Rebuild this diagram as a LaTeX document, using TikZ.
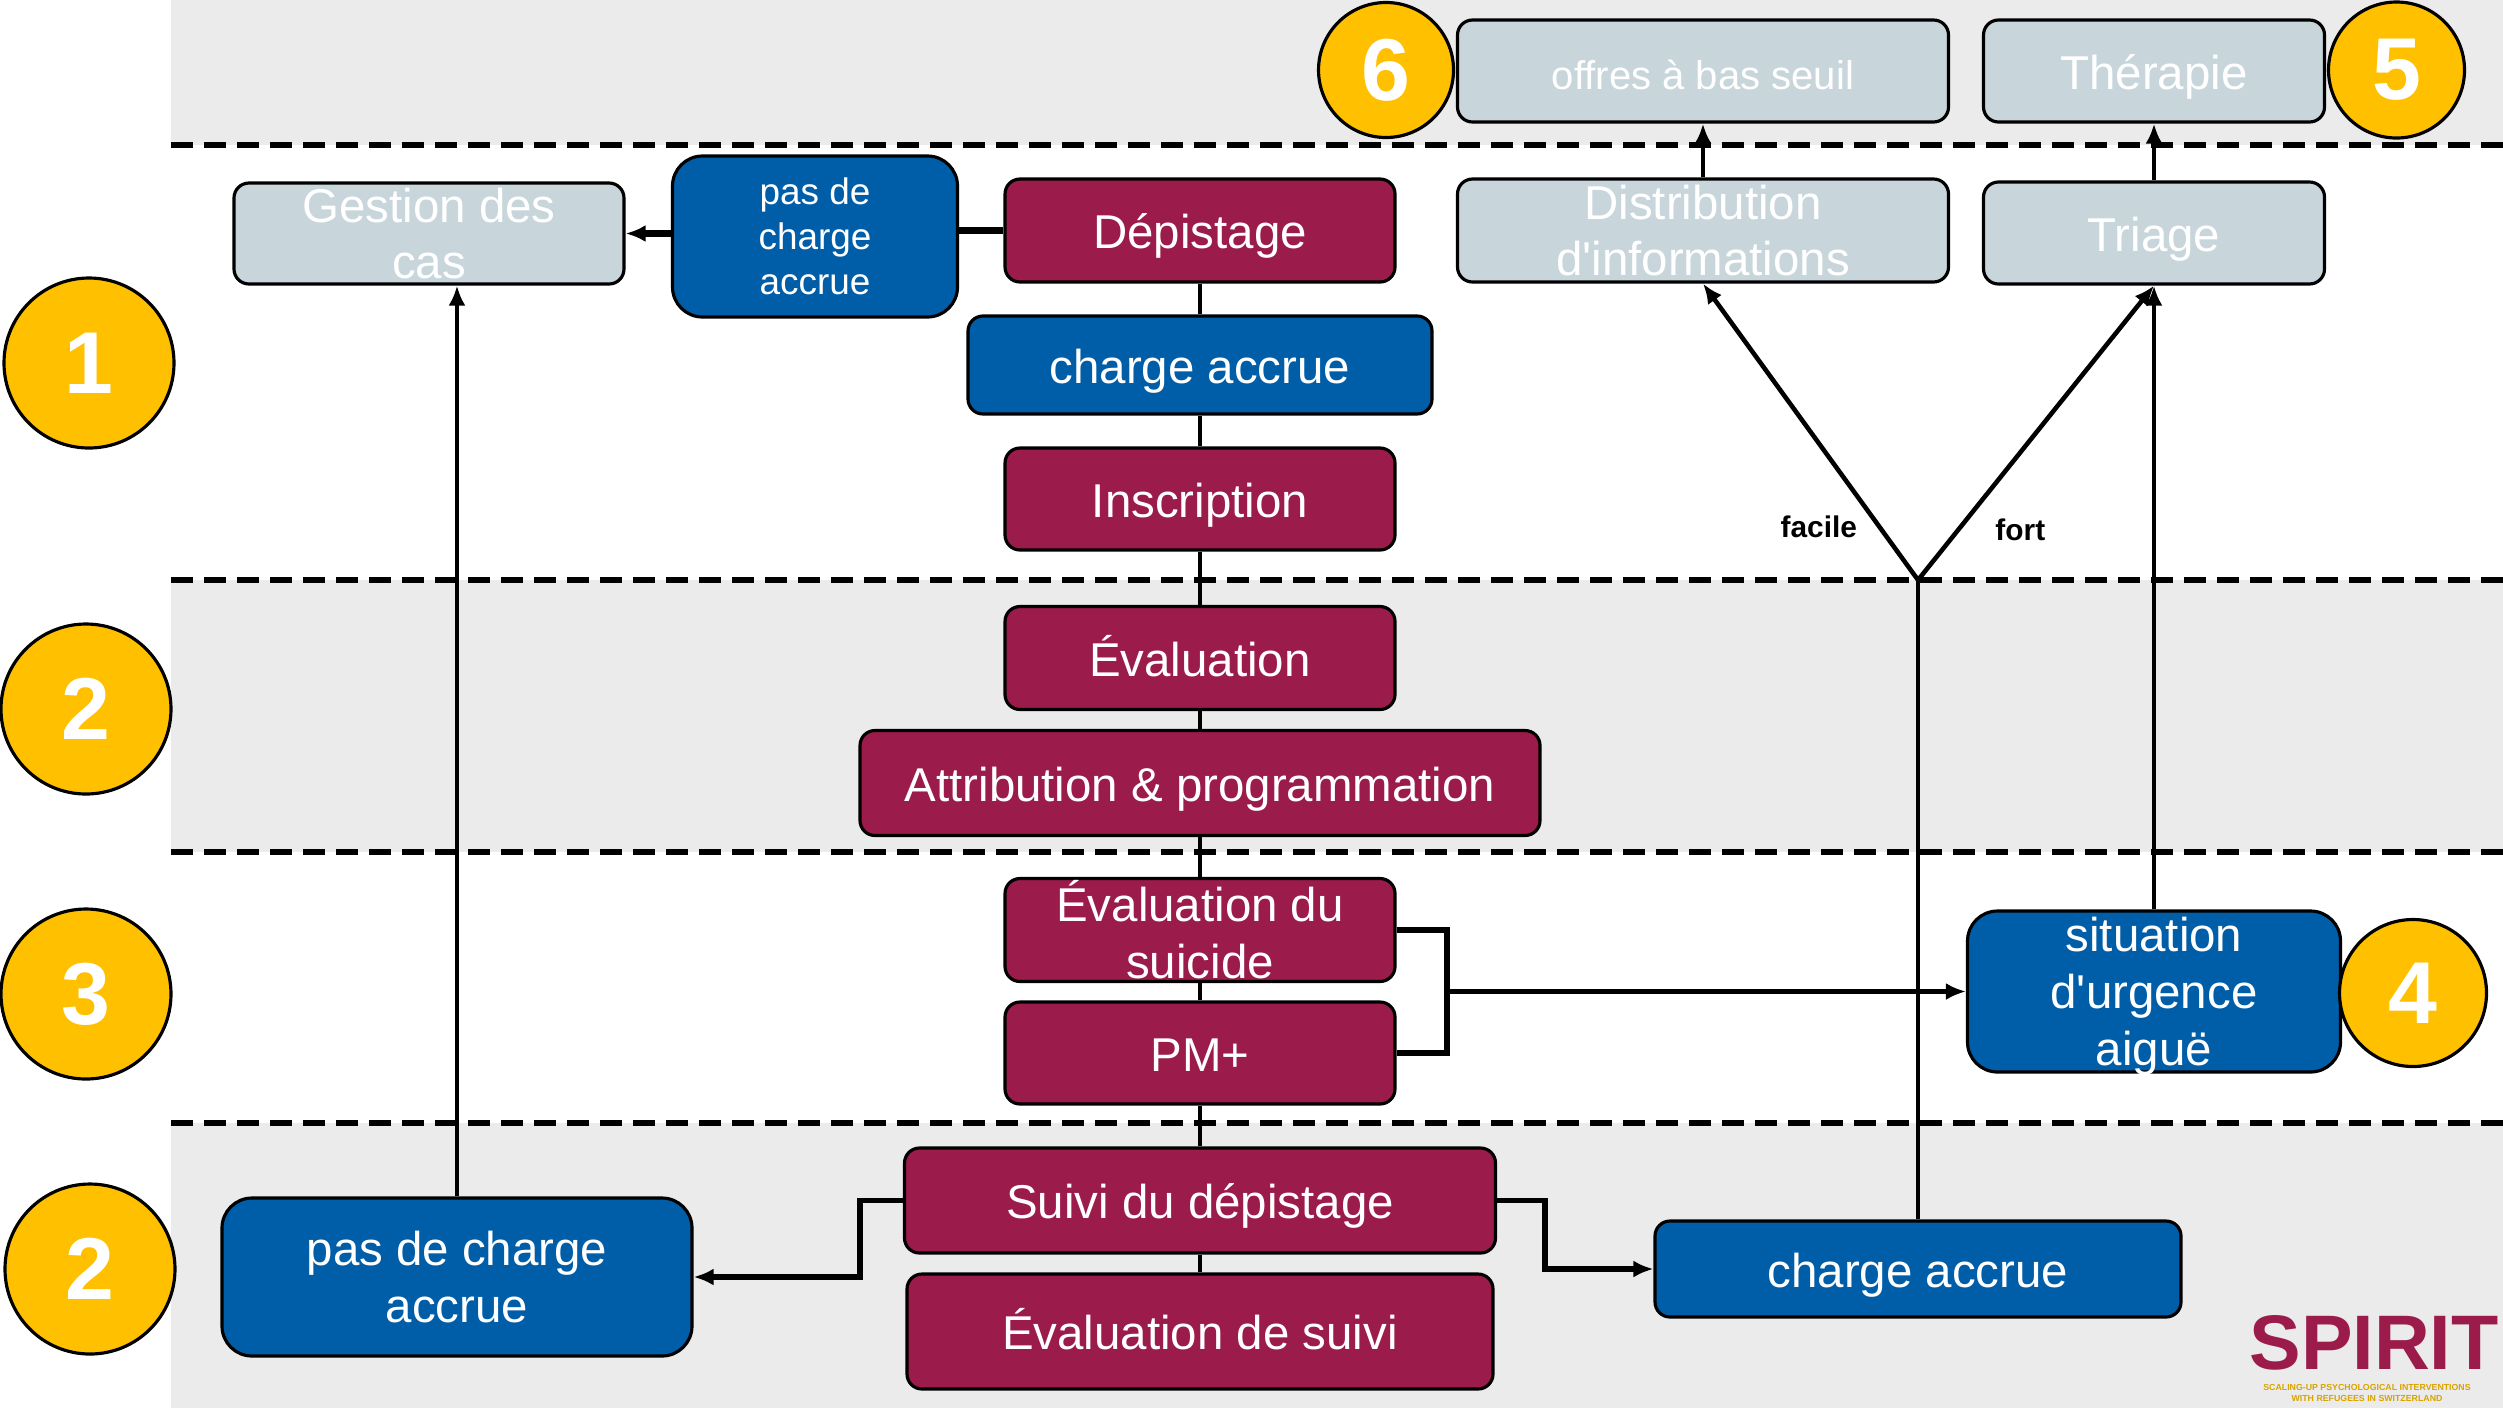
\documentclass[tikz,border=0pt]{standalone}
\usepackage{fontspec}
\setmainfont{Liberation Sans}
\usetikzlibrary{arrows.meta}

\definecolor{spired}{RGB}{155,27,74}
\definecolor{spiblue}{RGB}{0,94,168}
\definecolor{spigrey}{RGB}{200,214,220}
\definecolor{spiyellow}{RGB}{255,192,0}
\definecolor{laneback}{RGB}{235,235,235}

\tikzset{
  box/.style={draw=black, line width=0.9pt, rounded corners=0.15cm, text=white, align=center,
    inner sep=0pt, minimum height=1.02cm, font=\fontsize{13.5}{16.2}\selectfont},
  oneline/.style={text height=0.46cm, text depth=0.10cm},
  redbox/.style={box, fill=spired, minimum width=3.9cm},
  bluebox/.style={box, fill=spiblue},
  greybox/.style={box, fill=spigrey},
  numcirc/.style={circle, draw=black, line width=0.9pt, fill=spiyellow, text=white, inner sep=0pt,
    minimum size=1.70cm, font=\fontsize{25}{25}\selectfont\bfseries},
  link/.style={line width=1.3pt},
  thicklink/.style={line width=1.6pt},
  arr/.style={-{Latex[length=0.2cm,width=0.17cm]}},
  lbl/.style={inner sep=0pt, font=\fontsize{8.5}{10}\selectfont\bfseries},
  sep/.style={line width=1.5pt, dash pattern=on 0.22cm off 0.11cm},
}

\begin{document}
\begin{tikzpicture}
\fill[white] (0,0) rectangle (25.03,-14.08);
\useasboundingbox (0,0) rectangle (25.03,-14.08);

\fill[laneback] (1.71,0) rectangle (25.03,-1.45);
\fill[laneback] (1.71,-5.80) rectangle (25.03,-8.52);
\fill[laneback] (1.71,-11.23) rectangle (25.03,-14.08);
\foreach \y in {-1.45,-5.80,-8.52,-11.23}
  \draw[sep] (1.71,\y) -- (25.03,\y);

\node[greybox, minimum width=3.90cm, minimum height=1.01cm] (gestion) at (4.29,-2.335) {Gestion des\\cas};
\node[bluebox, minimum width=2.85cm, minimum height=1.61cm, rounded corners=0.3cm,
  font=\fontsize{10.5}{12.8}\selectfont] (pasdechtop) at (8.15,-2.365) {pas de\\charge\\accrue};
\node[redbox, oneline, minimum height=1.03cm] (depist) at (12.0,-2.305) {Dépistage};
\node[bluebox, oneline, minimum width=4.64cm, minimum height=0.98cm] (chargetop) at (12.0,-3.65) {charge accrue};
\node[redbox, oneline] (inscr) at (12.0,-4.99) {Inscription};
\node[redbox, oneline, minimum height=1.03cm] (eval) at (12.0,-6.58) {Évaluation};
\node[redbox, oneline, minimum width=6.80cm, minimum height=1.05cm] (attrib) at (12.0,-7.83) {Attribution \& programmation};
\node[redbox, minimum height=1.03cm] (suicide) at (12.0,-9.30) {Évaluation du\\suicide};
\node[redbox, oneline] (pmplus) at (12.0,-10.53) {PM+};
\node[redbox, oneline, minimum width=5.91cm, minimum height=1.05cm] (suivi) at (12.0,-12.005) {Suivi du dépistage};
\node[redbox, oneline, minimum width=5.86cm, minimum height=1.15cm] (evalsuivi) at (12.0,-13.315) {Évaluation de suivi};
\node[bluebox, minimum width=4.70cm, minimum height=1.58cm, rounded corners=0.3cm] (pasdechbot) at (4.57,-12.77) {pas de charge\\accrue};
\node[bluebox, oneline, minimum width=5.26cm, minimum height=0.96cm] (chargebot) at (19.18,-12.69) {charge accrue};
\node[bluebox, text depth=0pt, minimum width=3.73cm, minimum height=1.61cm, rounded corners=0.3cm] (urgence) at (21.54,-9.915)
  {situation\\d\textquotesingle urgence\\aiguë};
\node[greybox, minimum width=4.91cm, minimum height=1.03cm] (distrib) at (17.03,-2.305) {Distribution\\d\textquotesingle informations};
\node[greybox, oneline, minimum width=3.41cm] (triage) at (21.54,-2.33) {Triage};
\node[greybox, oneline, minimum width=4.91cm, font=\fontsize{11.4}{13}\selectfont] (offres) at (17.03,-0.71) {offres à bas seuil};
\node[greybox, oneline, minimum width=3.41cm] (therapie) at (21.54,-0.71) {Thérapie};

\node[numcirc] (num1) at (0.89,-3.63) {1};
\node[numcirc] (num2) at (0.86,-7.09) {2};
\node[numcirc] (num3) at (0.86,-9.94) {3};
\node[numcirc] (num2b) at (0.90,-12.69) {2};
\node[numcirc, minimum size=1.47cm] (num4) at (24.13,-9.93) {4};
\node[numcirc, minimum size=1.36cm] (num5) at (23.965,-0.70) {5};
\node[numcirc, minimum size=1.35cm] (num6) at (13.86,-0.70) {6};

\foreach \a/\b in {depist/chargetop, chargetop/inscr, inscr/eval, eval/attrib, attrib/suicide,
  suicide/pmplus, pmplus/suivi, suivi/evalsuivi}
  \draw[link] (\a) -- (\b);

\draw[line width=2pt] (depist.west) -- (pasdechtop.east |- depist.west);
\draw[line width=2pt, arr] (pasdechtop.west |- gestion.east) -- (gestion.east);
\draw[link, arr] (pasdechbot.north) -- (pasdechbot.north |- gestion.south);

\coordinate (brk) at (14.47,-9.915);
\draw[thicklink] (suicide.east) -| (brk) |- (pmplus.east);
\draw[thicklink, arr] (brk) -- (urgence.west);
\draw[link, arr] (urgence.north) -- (triage.south);

\draw[thicklink, arr] (suivi.west) -- ++(-0.43,0) |- (pasdechbot.east);
\draw[thicklink, arr] (suivi.east) -- ++(0.48,0) |- (chargebot.west);

\coordinate (fork) at (19.18,-5.80);
\draw[link] (chargebot.north) -- (fork);
\draw[link, arr] (fork) -- (distrib.south) node[lbl, pos=0.18, left=0.2cm] {facile};
\draw[link, arr] (fork) -- (triage.south) node[lbl, pos=0.17, right=0.35cm] {fort};

\draw[link, arr] (distrib) -- (offres);
\draw[link, arr] (triage) -- (therapie);

\node[inner sep=0pt, text=spired, font=\fontsize{22}{22}\selectfont\bfseries] (logo) at (23.74,-13.425) {SPIRIT};
\node[inner sep=0pt, align=center, text=spiyellow!85!black, font=\fontsize{2.5}{2.9}\selectfont\bfseries] (logosub) at (23.67,-13.93)
  {SCALING-UP PSYCHOLOGICAL INTERVENTIONS\\WITH REFUGEES IN SWITZERLAND};

\end{tikzpicture}
\end{document}
